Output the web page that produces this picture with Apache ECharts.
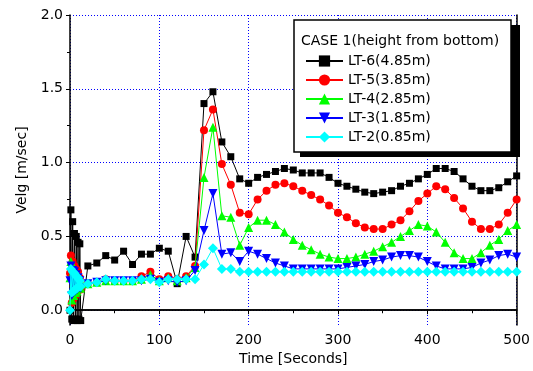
<!DOCTYPE html>
<html>
<head>
<meta charset="utf-8">
<script src="https://cdn.jsdelivr.net/npm/echarts@6/dist/echarts.min.js"></script>
<style>html,body{margin:0;padding:0;background:#fff}#c{width:533px;height:371px}</style>
</head>
<body>
<div id="c"></div>
<script>
// Time axis (seconds)
var times = [0,1,2,3,4,5,6,7,8,9,10,11,12,
  20,30,40,50,60,70,80,90,100,110,120,130,140,
  150,160,170,180,190,200,210,220,230,240,250,260,270,280,290,300,
  310,320,330,340,350,360,370,380,390,400,410,420,430,440,450,460,470,480,490,500];

var lt6 = [0.00,0.68,-0.06,0.60,-0.07,0.52,-0.06,0.50,-0.07,0.46,-0.06,0.45,-0.07,
  0.30,0.32,0.37,0.34,0.40,0.31,0.38,0.38,0.42,0.40,0.18,0.50,0.36,
  1.40,1.48,1.14,1.04,0.89,0.86,0.90,0.92,0.94,0.96,0.95,0.93,0.93,0.93,0.90,0.86,
  0.84,0.82,0.80,0.79,0.80,0.81,0.84,0.86,0.89,0.92,0.96,0.96,0.94,0.89,0.84,0.81,0.81,0.83,0.87,0.91];

var lt5 = [0.25,0.37,0.05,0.33,0.08,0.30,0.10,0.28,0.12,0.26,0.15,0.22,0.14,
  0.18,0.19,0.21,0.20,0.20,0.20,0.23,0.26,0.21,0.23,0.21,0.23,0.30,
  1.22,1.36,0.99,0.85,0.66,0.65,0.75,0.81,0.85,0.86,0.84,0.81,0.78,0.75,0.71,0.66,
  0.63,0.59,0.56,0.55,0.55,0.58,0.61,0.67,0.74,0.79,0.84,0.82,0.76,0.69,0.60,0.55,0.55,0.58,0.66,0.75];

var lt4 = [0.22,0.33,0.07,0.30,0.10,0.28,0.12,0.26,0.13,0.24,0.15,0.21,0.15,
  0.18,0.19,0.20,0.20,0.20,0.20,0.21,0.24,0.20,0.22,0.20,0.22,0.29,
  0.90,1.24,0.64,0.63,0.44,0.56,0.61,0.61,0.58,0.53,0.48,0.44,0.41,0.38,0.36,0.35,
  0.35,0.36,0.38,0.40,0.43,0.46,0.50,0.54,0.58,0.57,0.53,0.46,0.39,0.35,0.35,0.39,0.44,0.48,0.54,0.58];

var lt3 = [0.20,0.30,0.10,0.27,0.12,0.26,0.13,0.24,0.14,0.22,0.15,0.20,0.15,
  0.18,0.19,0.20,0.20,0.20,0.20,0.20,0.21,0.19,0.20,0.19,0.20,0.27,
  0.54,0.79,0.38,0.39,0.33,0.40,0.38,0.35,0.32,0.30,0.28,0.28,0.28,0.28,0.28,0.28,
  0.29,0.30,0.31,0.33,0.34,0.36,0.37,0.37,0.36,0.33,0.30,0.28,0.28,0.28,0.29,0.32,0.34,0.37,0.38,0.36];

var lt2 = [0.00,0.28,0.12,0.26,0.13,0.25,0.14,0.23,0.15,0.22,0.16,0.20,0.16,
  0.18,0.19,0.21,0.20,0.20,0.20,0.21,0.21,0.19,0.21,0.21,0.21,0.21,
  0.31,0.42,0.28,0.28,0.26,0.26,0.26,0.26,0.26,0.26,0.26,0.26,0.26,0.26,0.26,0.26,
  0.26,0.26,0.26,0.26,0.26,0.26,0.26,0.26,0.26,0.26,0.26,0.26,0.26,0.26,0.26,0.26,0.26,0.26,0.26,0.26];

var seriesNames = ['LT-6(4.85m)','LT-5(3.85m)','LT-4(2.85m)','LT-3(1.85m)','LT-2(0.85m)'];
var legendTitle = 'CASE 1(height from bottom)';
var yTicks = [0, 0.5, 1.0, 1.5, 2.0];
var yMinorTicks = [0.25, 0.75, 1.25, 1.75];

var FONT = 'DejaVu Sans';

function pairs(vals) {
  return times.map(function (t, i) { return [t, vals[i]]; });
}

var styles = [
  {color: '#000000', symbol: 'rect', size: 7, rot: 0},
  {color: '#ff0000', symbol: 'circle', size: 8, rot: 0},
  {color: '#00ff00', symbol: 'triangle', size: 9, rot: 0},
  {color: '#0000ff', symbol: 'triangle', size: 9, rot: 180},
  {color: '#00ffff', symbol: 'diamond', size: 10, rot: 0}
];
var allVals = [lt6, lt5, lt4, lt3, lt2];

var series = allVals.map(function (vals, i) {
  var s = styles[i];
  return {
    name: seriesNames[i],
    type: 'line',
    data: pairs(vals),
    symbol: s.symbol,
    symbolSize: s.size,
    symbolRotate: s.rot,
    showAllSymbol: true,
    color: s.color,
    lineStyle: {color: s.color, width: 1},
    itemStyle: {color: s.color},
    xAxisIndex: 0,
    yAxisIndex: 0,
    z: 2 + i * 0.1,
    emphasis: {disabled: true}
  };
});

var gridLine = {show: true, lineStyle: {color: '#0000ff', width: 1, type: [1, 2]}};
var axisLineStyle = {show: true, lineStyle: {color: '#000', width: 1.5}};

var chart = echarts.init(document.getElementById('c'), null, {renderer: 'canvas'});
chart.setOption({
  animation: false,
  backgroundColor: '#ffffff',
  grid: {left: 70, right: 16, top: 15, bottom: 43, containLabel: false},
  xAxis: [{
    type: 'value', min: 0, max: 500, interval: 100, position: 'bottom',
    name: 'Time [Seconds]', nameLocation: 'middle', nameGap: 27,
    nameTextStyle: {fontFamily: FONT, fontSize: 14, color: '#000'},
    axisLine: axisLineStyle,
    axisTick: {show: true, length: 4, inside: false, lineStyle: {color: '#000'}},
    minorTick: {show: true, splitNumber: 2, length: 3, lineStyle: {color: '#000'}},
    axisLabel: {fontFamily: FONT, fontSize: 14, color: '#000', margin: 8},
    splitLine: gridLine
  }, {
    type: 'value', min: 0, max: 500, interval: 100, position: 'top',
    axisLine: axisLineStyle, axisTick: {show: false}, axisLabel: {show: false}, splitLine: {show: false}
  }],
  yAxis: [{
    type: 'value', min: -0.1, max: 2.0, position: 'left',
    name: 'Velg [m/sec]', nameLocation: 'middle', nameGap: 37,
    nameTextStyle: {fontFamily: FONT, fontSize: 14, color: '#000'},
    axisLine: axisLineStyle,
    axisTick: {show: true, length: 4, customValues: yTicks, lineStyle: {color: '#000'}},
    axisLabel: {fontFamily: FONT, fontSize: 14, color: '#000', margin: 7, customValues: yTicks,
      formatter: function (v) { return v.toFixed(1); }},
    splitLine: gridLine
  }, {
    type: 'value', min: -0.1, max: 2.0, position: 'left',
    axisLine: {show: false},
    axisTick: {show: true, length: 3, customValues: yMinorTicks, lineStyle: {color: '#000'}},
    axisLabel: {show: false}, splitLine: {show: false}
  }, {
    type: 'value', min: -0.1, max: 2.0, position: 'right',
    axisLine: axisLineStyle, axisTick: {show: false}, axisLabel: {show: false}, splitLine: {show: false}
  }],
  legend: {
    show: true, orient: 'vertical', left: 300, top: 49,
    itemWidth: 37, itemHeight: 14, itemGap: 5,
    data: seriesNames,
    textStyle: {fontFamily: FONT, fontSize: 14, color: '#000'},
    selectedMode: false, z: 10
  },
  graphic: [
    {type: 'rect', z: 8, shape: {x: 300, y: 25, width: 220, height: 132}, style: {fill: '#000'}},
    {type: 'rect', z: 9, shape: {x: 294, y: 20, width: 217, height: 132}, style: {fill: '#fff', stroke: '#000', lineWidth: 1.5}},
    {type: 'text', z: 11, x: 301, y: 41, style: {text: legendTitle, fontFamily: FONT, fontSize: 14, fill: '#000', textVerticalAlign: 'middle'}}
  ],
  series: series
});
</script>
</body>
</html>
